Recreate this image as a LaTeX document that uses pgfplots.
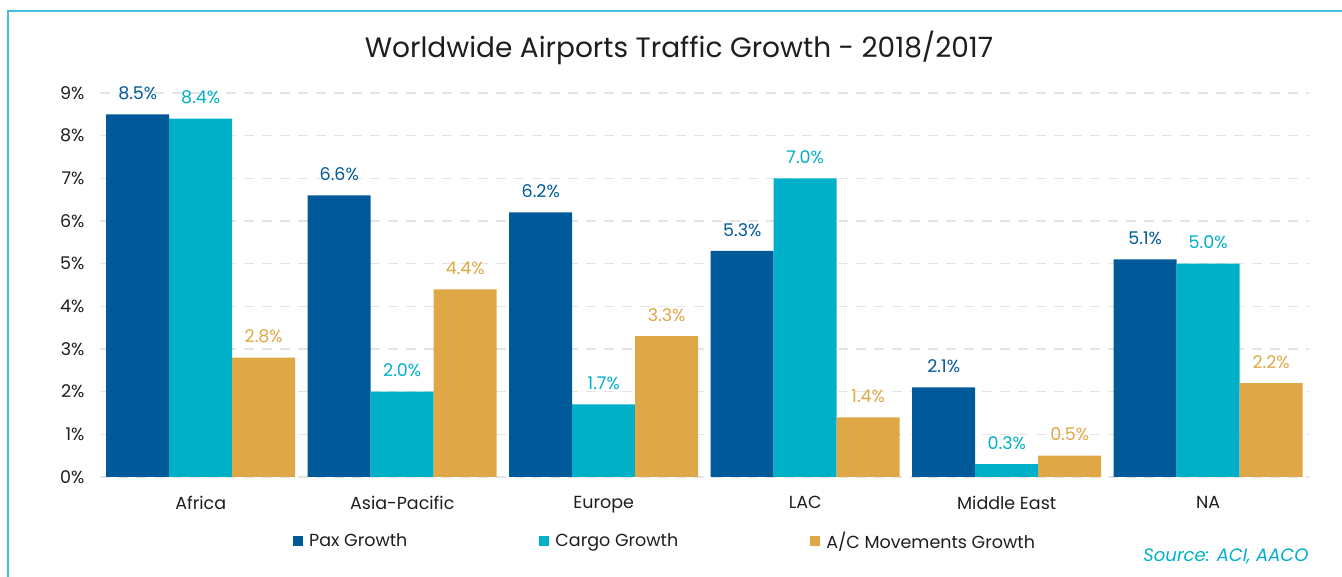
\documentclass[border=0pt]{standalone}
\usepackage{pgfplots}
\pgfplotsset{compat=1.18}
\usepackage{fontspec}
\setmainfont{Poppins}
\definecolor{pax}{RGB}{0,90,154}
\definecolor{cargo}{RGB}{0,176,200}
\definecolor{acm}{RGB}{223,167,70}
\definecolor{framec}{RGB}{70,190,215}
\definecolor{txt}{RGB}{30,30,30}
\definecolor{gridc}{RGB}{228,228,228}
\begin{document}
\begin{tikzpicture}
\useasboundingbox (0pt,0pt) rectangle (1342pt,577pt);
\draw[framec,line width=2pt] (8pt,0pt) -- (8pt,566pt) -- (1342pt,566pt);
\node[font=\fontsize{28}{31}\selectfont,text=txt] at (679pt,529pt) {Worldwide Airports Traffic Growth - 2018/2017};
\node[font=\fontsize{18}{20}\selectfont\itshape,text=cargo,anchor=east] at (1312pt,21pt) {Source: ACI, AACO};
\begin{axis}[
  at={(100pt,100pt)}, anchor=south west,
  scale only axis, width=1209pt, height=384pt,
  ybar=0pt, bar width=63pt,
  xmin=-0.5, xmax=5.5, ymin=0, ymax=9,
  xtick=data,
  xticklabels={Africa,Asia-Pacific,Europe,LAC,Middle East,NA},
  ytick={0,1,...,9},
  yticklabel={\pgfmathprintnumber{\tick}\%},
  /pgf/number format/assume math mode=true,
  axis line style={draw=none},
  major tick length=0pt,
  ymajorgrids, xmajorgrids=false,
  grid style={draw=gridc,line width=1.5pt,dash pattern=on 10pt off 8pt},
  tick label style={font=\fontsize{17.5}{20}\selectfont,text=txt},
  xticklabel style={yshift=-16pt},
  yticklabel style={xshift=-12pt},
  clip=false,
  nodes near coords={\pgfmathprintnumber[fixed,fixed zerofill,precision=1]{\pgfplotspointmeta}\%},
  every node near coord/.append style={font=\fontsize{17.5}{20}\selectfont,yshift=11pt},
  legend columns=3,
  legend style={at={(0.1596,-0.1667)},anchor=west,draw=none,fill=none,inner sep=0pt,
    font=\fontsize{17.5}{20}\selectfont,text=txt,
    /tikz/every odd column/.append style={column sep=4pt},
    /tikz/every even column/.append style={column sep=130pt}},
  legend image code/.code={\fill[#1] (0pt,-5pt) rectangle (10pt,5pt);},
]
\addplot[fill=pax,draw=none,every node near coord/.append style={text=pax}] coordinates {(0,8.5) (1,6.6) (2,6.2) (3,5.3) (4,2.1) (5,5.1)};
\addplot[fill=cargo,draw=none,every node near coord/.append style={text=cargo}] coordinates {(0,8.4) (1,2.0) (2,1.7) (3,7.0) (4,0.3) (5,5.0)};
\addplot[fill=acm,draw=none,every node near coord/.append style={text=acm}] coordinates {(0,2.8) (1,4.4) (2,3.3) (3,1.4) (4,0.5) (5,2.2)};
\legend{Pax Growth,Cargo Growth,A/C Movements Growth}
\end{axis}
\end{tikzpicture}
\end{document}
